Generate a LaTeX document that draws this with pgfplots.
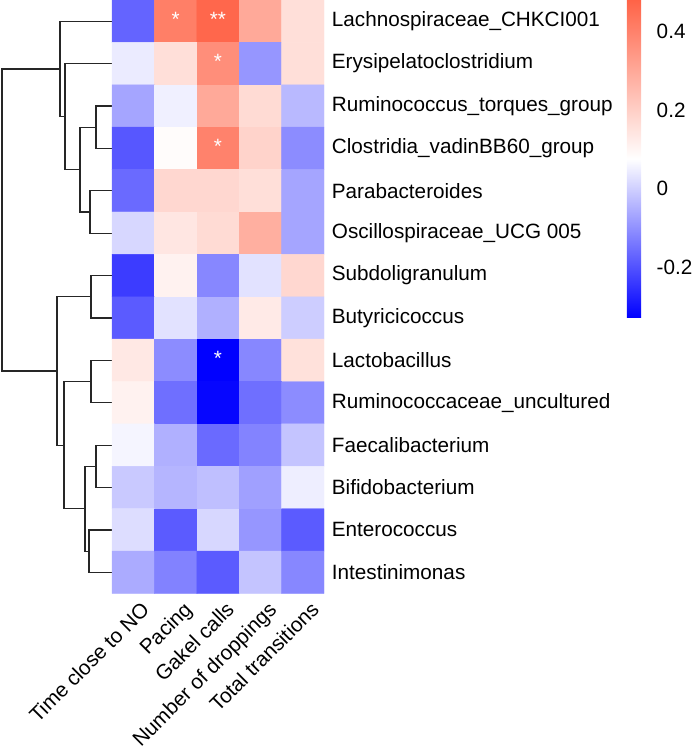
\documentclass[border=0pt]{standalone}
\usepackage{fontspec}
\setmainfont{Liberation Sans}
\usepackage{pgfplots}
\pgfplotsset{compat=1.18}
\usepackage{pgfplotstable}

% heatmap values: x = column index, y = row index (0 = top)
\pgfplotstableread{
x y c
0 0 -0.170
1 0 0.410
2 0 0.470
3 0 0.300
4 0 0.160
0 1 0.045
1 1 0.160
2 1 0.370
3 1 -0.090
4 1 0.160
0 2 -0.066
1 2 0.053
2 2 0.300
3 2 0.170
4 2 -0.035
0 3 -0.190
1 3 0.085
2 3 0.400
3 3 0.190
4 3 -0.106
0 4 -0.160
1 4 0.180
2 4 0.180
3 4 0.160
4 4 -0.066
0 5 0.013
1 5 0.140
2 5 0.170
3 5 0.285
4 5 -0.066
0 6 -0.233
1 6 0.110
2 6 -0.114
3 6 0.030
4 6 0.180
0 7 -0.185
1 7 0.030
2 7 -0.050
3 7 0.130
4 7 -0.003
0 8 0.135
1 8 -0.106
2 8 -0.328
3 8 -0.114
4 8 0.155
0 9 0.110
1 9 -0.153
2 9 -0.320
3 9 -0.153
4 9 -0.106
0 10 0.060
1 10 -0.050
2 10 -0.160
3 10 -0.120
4 10 -0.018
0 11 -0.010
1 11 -0.042
2 11 -0.026
3 11 -0.074
4 11 0.050
0 12 0.022
1 12 -0.185
2 12 0.013
3 12 -0.090
4 12 -0.185
0 13 -0.058
1 13 -0.122
2 13 -0.185
3 13 -0.018
4 13 -0.114
}\heatdata

\newcommand{\lblfont}{\fontsize{20.7}{24}\selectfont}
\tikzset{dend/.style={line width=1.2pt, draw=black!85, mark=none}}

\begin{document}
\begin{tikzpicture}
\path[use as bounding box] (0pt,0pt) rectangle (693pt,-752pt);

% dendrogram (pixel-like units, y downward)
\begin{axis}[at={(0pt,0pt)}, anchor=north west, width=112pt, height=593.5pt,
  scale only axis, xmin=0, xmax=112, ymin=0, ymax=593.5, y dir=reverse,
  hide axis, clip=false]
% upper cluster
\addplot[dend] coordinates {(112,106.0) (96,106.0) (96,148.4) (112,148.4)};
\addplot[dend] coordinates {(112,190.8) (90,190.8) (90,233.2) (112,233.2)};
\addplot[dend] coordinates {(96,127.2) (80,127.2) (80,212.0) (90,212.0)};
\addplot[dend] coordinates {(112,63.6) (65,63.6) (65,169.6) (80,169.6)};
\addplot[dend] coordinates {(112,21.2) (60,21.2) (60,116.6) (65,116.6)};
% lower cluster
\addplot[dend] coordinates {(112,275.5) (91,275.5) (91,317.9) (112,317.9)};
\addplot[dend] coordinates {(112,360.3) (91,360.3) (91,402.7) (112,402.7)};
\addplot[dend] coordinates {(112,445.1) (96,445.1) (96,487.5) (112,487.5)};
\addplot[dend] coordinates {(112,529.9) (89,529.9) (89,572.3) (112,572.3)};
\addplot[dend] coordinates {(96,466.3) (85,466.3) (85,551.1) (89,551.1)};
\addplot[dend] coordinates {(91,381.5) (64,381.5) (64,508.7) (85,508.7)};
\addplot[dend] coordinates {(91,296.7) (57,296.7) (57,445.1) (64,445.1)};
% root
\addplot[dend] coordinates {(60,68.9) (2,68.9) (2,370.9) (57,370.9)};
\end{axis}

% heatmap
\begin{axis}[at={(112pt,0pt)}, anchor=north west, width=212pt, height=593.5pt,
  scale only axis, xmin=-0.5, xmax=4.5, ymin=-0.5, ymax=13.5, y dir=reverse,
  enlargelimits=false, axis line style={draw=none}, major tick length=0pt,
  xtick={0,...,4}, ytick={0,...,13},
  xticklabels={Time close to NO, Pacing, Gakel calls, Number of droppings, Total transitions},
  yticklabels={Lachnospiraceae\_CHKCI001, Erysipelatoclostridium, Ruminococcus\_torques\_group,
    Clostridia\_vadinBB60\_group, Parabacteroides, Oscillospiraceae\_UCG 005, Subdoligranulum,
    Butyricicoccus, Lactobacillus, Ruminococcaceae\_uncultured, Faecalibacterium,
    Bifidobacterium, Enterococcus, Intestinimonas},
  yticklabel pos=right,
  yticklabel style={font=\lblfont, anchor=west, inner sep=0pt, xshift=7.7pt},
  xticklabel style={font=\lblfont, rotate=45, anchor=north east, inner sep=0pt, yshift=-9.5pt},
  colormap={bwt}{rgb255=(0,0,255) rgb255=(255,255,255) rgb255=(255,99,71)},
  point meta min=-0.329, point meta max=0.481,
  colorbar,
  colorbar style={at={(parent axis.north east)}, anchor=north west, xshift=294.3pt,
    width=22pt, height=318pt, scale only axis, axis line style={draw=none},
    major tick length=0pt, ytick={-0.2,0,0.2,0.4}, yticklabels={-0.2,0,0.2,0.4},
    yticklabel pos=right,
    yticklabel style={font=\lblfont, anchor=west, inner sep=0pt, xshift=7.7pt}},
  clip=false]
\addplot[matrix plot*, mesh/cols=5, point meta=explicit] table[x=x, y=y, meta=c]{\heatdata};
\addplot[draw=none, mark=none, nodes near coords, point meta=explicit symbolic,
  nodes near coords style={white, anchor=center, font=\lblfont, inner sep=0pt, yshift=2pt}]
  coordinates {(1,0) [*] (2,0) [**] (2,1) [*] (2,3) [*] (2,8) [*]};
\end{axis}
\end{tikzpicture}
\end{document}
